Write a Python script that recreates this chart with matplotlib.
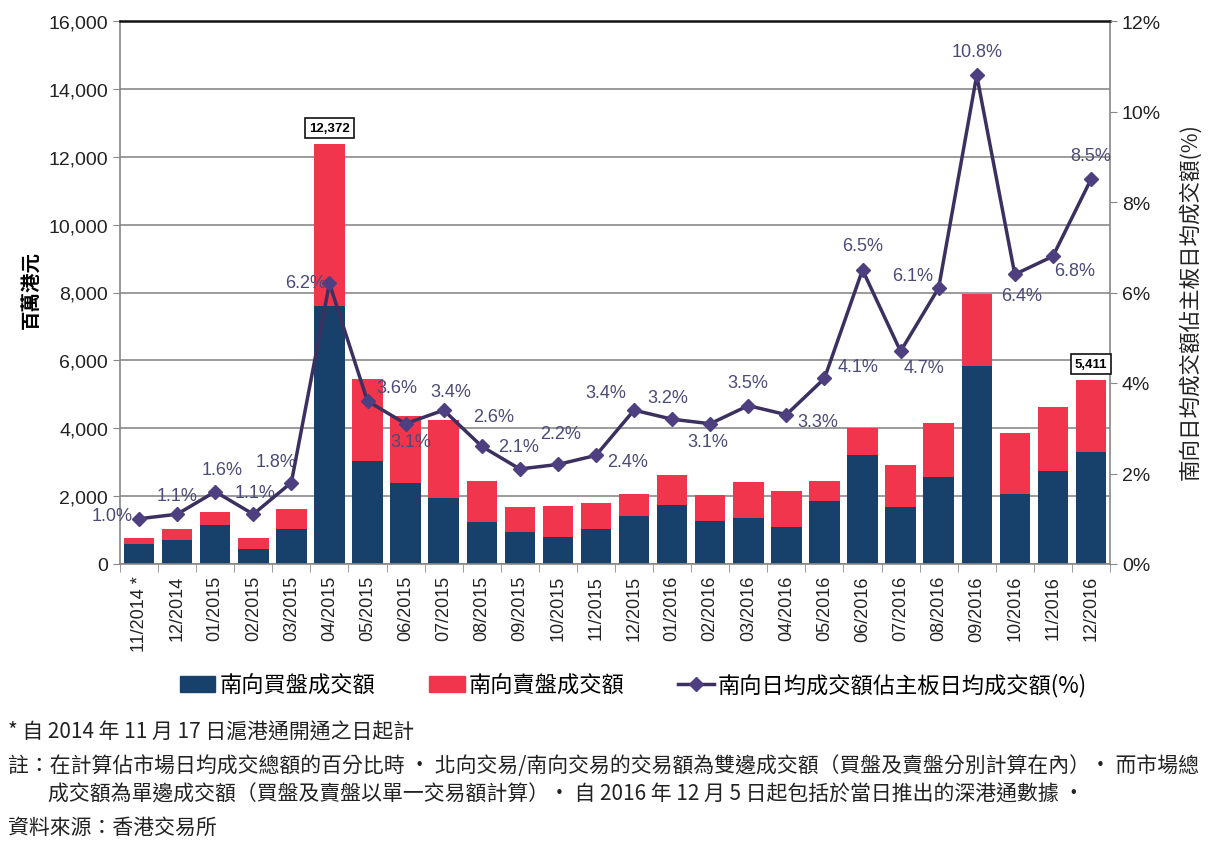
import matplotlib
matplotlib.use('Agg')
import matplotlib.pyplot as plt
from matplotlib.patches import Patch
from matplotlib.lines import Line2D
from matplotlib.ticker import FuncFormatter, MultipleLocator
import numpy as np

# 數據（百萬港元 / %）
months = ['11/2014 *', '12/2014', '01/2015', '02/2015', '03/2015', '04/2015', '05/2015',
          '06/2015', '07/2015', '08/2015', '09/2015', '10/2015', '11/2015', '12/2015',
          '01/2016', '02/2016', '03/2016', '04/2016', '05/2016', '06/2016', '07/2016',
          '08/2016', '09/2016', '10/2016', '11/2016', '12/2016']
buy = [590, 720, 1140, 450, 1040, 7590, 3040, 2400, 1950, 1250, 930, 810, 1040,
       1415, 1750, 1280, 1345, 1090, 1850, 3220, 1675, 2575, 5830, 2050, 2730, 3310]
sell = [170, 300, 395, 330, 575, 4782, 2420, 1975, 2295, 1195, 745, 910, 745,
        655, 865, 740, 1070, 1060, 595, 800, 1235, 1575, 2140, 1810, 1890, 2101]
pct = [1.0, 1.1, 1.6, 1.1, 1.8, 6.2, 3.6, 3.1, 3.4, 2.6, 2.1, 2.2, 2.4,
       3.4, 3.2, 3.1, 3.5, 3.3, 4.1, 6.5, 4.7, 6.1, 10.8, 6.4, 6.8, 8.5]
boxed = {5: '12,372', 25: '5,411'}   # 標示總額的柱

# 百分比標籤的位置偏移（像素）
lbl_off = [(-27, 3), (0, 19), (7, 22), (2, 22), (-15, 21), (-24, 1), (29, 14), (5, -18),
           (7, 19), (12, 30), (-1, 22), (3, 31), (32, -6), (-28, 18), (-4, 22), (-2, -18),
           (0, 23), (31, -7), (34, 12), (0, 24), (23, -16), (-26, 12), (0, 24), (7, -21),
           (22, -14), (0, 24)]

BLUE = '#17416a'
RED = '#f0354c'
LINE = '#3b305f'
MARK = '#4d3f80'
TXT = '#4b4a78'
CJK = ['Noto Sans CJK TC', 'DejaVu Sans']
LAT = ['Liberation Sans', 'DejaVu Sans']

fig = plt.figure(figsize=(12.23, 8.53), dpi=100)
ax = fig.add_axes([120/1223, 1-565/853, 990/1223, 543/853])
x = np.arange(len(months))
total = np.array(buy) + np.array(sell)

ax.bar(x, buy, width=0.8, color=BLUE, zorder=2)
ax.bar(x, sell, width=0.8, bottom=buy, color=RED, zorder=2)

ax.set_xlim(-0.5, len(months) - 0.5)
ax.set_ylim(0, 16000)
ax.yaxis.set_major_locator(MultipleLocator(2000))
ax.yaxis.set_major_formatter(FuncFormatter(lambda v, p: f'{int(v):,}'))
ax.grid(axis='y', color='#8a8a8a', lw=1.2, zorder=0)
ax.set_axisbelow(True)
ax.set_xticks(x)
ax.set_xticklabels(months, rotation=90, fontfamily=LAT, fontsize=13, color='#222222')
ax.tick_params(axis='x', length=0, pad=8)
ax.set_xticks(np.arange(-0.5, len(months)), minor=True)
ax.tick_params(axis='x', which='minor', length=6, color='#888888')
ax.tick_params(axis='y', length=5, color='#888888', labelsize=14, labelcolor='#222222')
for lab in ax.get_yticklabels():
    lab.set_fontfamily(LAT)
for s in ['left', 'bottom', 'right']:
    ax.spines[s].set_color('#888888')
    ax.spines[s].set_linewidth(1.2)
ax.spines['top'].set_color('#111111')
ax.spines['top'].set_linewidth(1.8)

for i, txt in boxed.items():
    ax.annotate(txt, (x[i], total[i]), xytext=(0, 16), textcoords='offset pixels',
                ha='center', va='center', fontsize=9.5, fontweight='bold', fontfamily=LAT,
                bbox=dict(boxstyle='square,pad=0.3', fc='white', ec='#111111', lw=1.2), zorder=6)

ax2 = ax.twinx()
ax2.set_ylim(0, 12)
ax2.yaxis.set_major_locator(MultipleLocator(2))
ax2.yaxis.set_major_formatter(FuncFormatter(lambda v, p: f'{int(v)}%'))
ax2.tick_params(axis='y', length=5, color='#888888', labelsize=14, labelcolor='#222222')
for lab in ax2.get_yticklabels():
    lab.set_fontfamily(LAT)
for s in ax2.spines.values():
    s.set_visible(False)
ax2.plot(x, pct, color=LINE, lw=2.5, marker='D', markersize=7, markerfacecolor=MARK,
         markeredgecolor=MARK, zorder=5)
for i, v in enumerate(pct):
    ax2.annotate(f'{v:.1f}%', (x[i], v), xytext=lbl_off[i], textcoords='offset pixels',
                 ha='center', va='center', fontsize=13, color=TXT, fontfamily=LAT)

fig.text(32/1223, 1-290/853, '百萬港元', rotation=90, ha='center', va='center',
         fontsize=14, fontweight='bold', fontfamily=CJK)
fig.text(1190/1223, 1-302/853, '南向日均成交額佔主板日均成交額(%)', rotation=90,
         ha='center', va='center', fontsize=15.5, fontfamily=CJK, color='#222222')

handles = [Patch(color=BLUE), Patch(color=RED),
           Line2D([], [], color=LINE, lw=2.5, marker='D', markersize=7,
                  markerfacecolor=MARK, markeredgecolor=MARK)]
labels = ['南向買盤成交額', '南向賣盤成交額', '南向日均成交額佔主板日均成交額(%)']
fig.legend(handles, labels, loc='center', bbox_to_anchor=(0.518, 1-686/853), ncol=3,
           frameon=False, prop={'family': CJK, 'size': 16}, handlelength=1.6,
           handletextpad=0.2, columnspacing=2.4)

notes = [(8, 733, '* 自 2014 年 11 月 17 日滬港通開通之日起計'),
         (8, 766, '註：在計算佔市場日均成交總額的百分比時 · 北向交易/南向交易的交易額為雙邊成交額（買盤及賣盤分別計算在內）· 而市場總'),
         (48, 795, '成交額為單邊成交額（買盤及賣盤以單一交易額計算）• 自 2016 年 12 月 5 日起包括於當日推出的深港通數據 •'),
         (8, 828, '資料來源：香港交易所')]
for nx, ny, t in notes:
    fig.text(nx/1223, 1-ny/853, t, ha='left', va='center', fontsize=15, fontfamily=CJK,
             color='#222222')

fig.savefig('out.png', dpi=100)
